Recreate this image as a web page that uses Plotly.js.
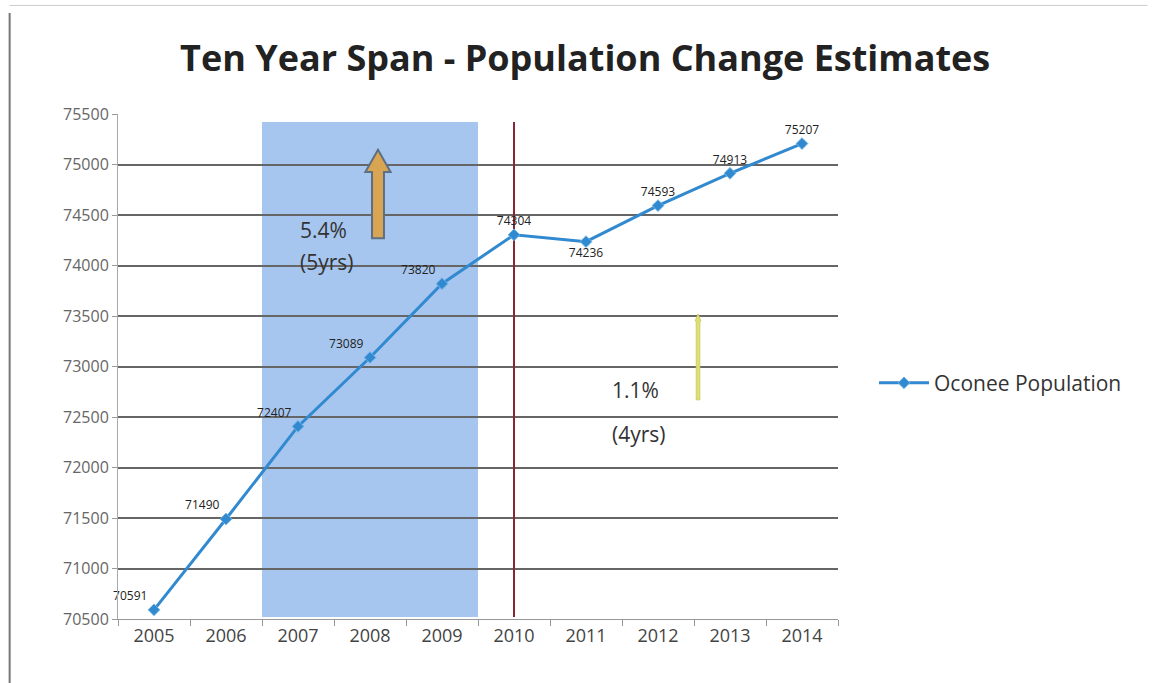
<!DOCTYPE html>
<html>
<head>
<meta charset="utf-8">
<script src="https://cdn.plot.ly/plotly-3.0.1.min.js"></script>
<style>html,body{margin:0;padding:0;background:#fff;}#chart{width:1161px;height:683px;}</style>
</head>
<body>
<div id="chart"></div>
<script>
// ---- data ----
const years = ['2005','2006','2007','2008','2009','2010','2011','2012','2013','2014'];
const population = [70591, 71490, 72407, 73089, 73820, 74304, 74236, 74593, 74913, 75207];
const populationLabels = ['70591','71490','72407','73089','73820','74304','74236','74593','74913','75207'];
const yTickValues = [70500, 71000, 71500, 72000, 72500, 73000, 73500, 74000, 74500, 75000, 75500];
const yTickLabels = ['70500','71000','71500','72000','72500','73000','73500','74000','74500','75000','75500'];
const seriesName = 'Oconee Population';
const chartTitle = 'Ten Year Span - Population Change Estimates';
const shadedFrom = '2007', shadedTo = '2009', markerYear = '2010';
const firstPeriodText = ['5.4%', '(5yrs)'];
const secondPeriodText = ['1.1%', '(4yrs)'];

const labelPos = ['top left','top left','top left','top left','top left','top center','bottom center','top center','top center','top center'];

const blue = '#3189cf';
const font = '"Open Sans", "Noto Sans", sans-serif';

const trace = {
  x: years, y: population, type: 'scatter', mode: 'lines+markers+text',
  name: seriesName,
  line: {color: blue, width: 3},
  marker: {symbol: 'diamond', size: 9, color: blue, line: {color: '#6fb3e6', width: 1}},
  text: populationLabels, textposition: labelPos,
  textfont: {family: font, size: 12, color: '#222'},
  cliponaxis: false
};

const iFrom = years.indexOf(shadedFrom) - 0.5;
const iTo = years.indexOf(shadedTo) + 0.5;
const iMark = years.indexOf(markerYear);

// arrow polygons in paper coordinates (decorations)
function arrowPath(xc, yb, yh, yt, bw, hw) {
  return `M${xc-bw},${yb} L${xc-bw},${yh} L${xc-hw},${yh} L${xc},${yt} L${xc+hw},${yh} L${xc+bw},${yh} L${xc+bw},${yb} Z`;
}

const shapes = [
  {type:'rect', xref:'x', yref:'y', x0:iFrom, x1:iTo, y0:70520, y1:75420, fillcolor:'#a6c6ef', line:{width:0}, layer:'below'},
  {type:'line', xref:'x', yref:'y', x0:iMark, x1:iMark, y0:70520, y1:75420, line:{color:'#8a2535', width:2}, layer:'between'},
  {type:'path', xref:'paper', yref:'paper', path: arrowPath(0.3611, 0.754, 0.885, 0.929, 0.0083, 0.0175), fillcolor:'#d9a552', line:{color:'#5d6f82', width:2}},
  {type:'path', xref:'paper', yref:'paper', path: arrowPath(0.8056, 0.434, 0.590, 0.604, 0.0025, 0.004), fillcolor:'#dfe070', line:{color:'#c9cf6a', width:1}},
  {type:'line', xref:'paper', yref:'paper', x0:-0.1505, x1:-0.1505, y0:-0.14, y1:1.20, line:{color:'#777', width:2}},
  {type:'line', xref:'paper', yref:'paper', x0:-0.1505, x1:1.43, y0:1.215, y1:1.215, line:{color:'#ccc', width:1}}
];

const annFont = {family: font, size: 21, color: '#333'};
const annotations = [
  {xref:'paper', yref:'paper', x:0.250, y:0.770, xanchor:'left', yanchor:'middle', text:firstPeriodText[0], showarrow:false, font:annFont},
  {xref:'paper', yref:'paper', x:0.250, y:0.707, xanchor:'left', yanchor:'middle', text:firstPeriodText[1], showarrow:false, font:annFont},
  {xref:'paper', yref:'paper', x:0.684, y:0.4535, xanchor:'left', yanchor:'middle', text:secondPeriodText[0], showarrow:false, font:annFont},
  {xref:'paper', yref:'paper', x:0.684, y:0.366, xanchor:'left', yanchor:'middle', text:secondPeriodText[1], showarrow:false, font:annFont}
];

const layout = {
  width: 1161, height: 683,
  margin: {l:118, r:323, t:114, b:64},
  paper_bgcolor: '#fff', plot_bgcolor: '#fff',
  font: {family: font, color: '#444'},
  title: {text: '<b>' + chartTitle + '</b>', x: 0.504, xref: 'container', xanchor: 'center',
          y: 0.915, yref: 'container', yanchor: 'middle', font: {family: font, size: 36, color: '#222'}},
  xaxis: {type:'category', tickson:'boundaries', ticks:'outside', ticklen:6, tickcolor:'#999',
          showgrid:false, showline:true, linecolor:'#999', linewidth:1,
          tickfont:{family: font, size:18, color:'#444'}, range:[-0.5, 9.5], fixedrange:true},
  yaxis: {range:[70500, 75500], tickvals:yTickValues, ticktext:yTickLabels, ticks:'outside', ticklen:5,
          tickcolor:'#999', showline:true, linecolor:'#aaa', linewidth:1,
          showgrid:true, gridcolor:'#666', gridwidth:2, zeroline:false,
          tickfont:{family: font, size:16, color:'#666'}},
  showlegend: true,
  legend: {x:1.05, y:0.467, xanchor:'left', yanchor:'middle', font:{family: font, size:21, color:'#333'},
           bgcolor:'rgba(0,0,0,0)', itemwidth:50},
  shapes: shapes,
  annotations: annotations
};

Plotly.newPlot('chart', [trace], layout, {displayModeBar:false, staticPlot:true});
</script>
</body>
</html>
